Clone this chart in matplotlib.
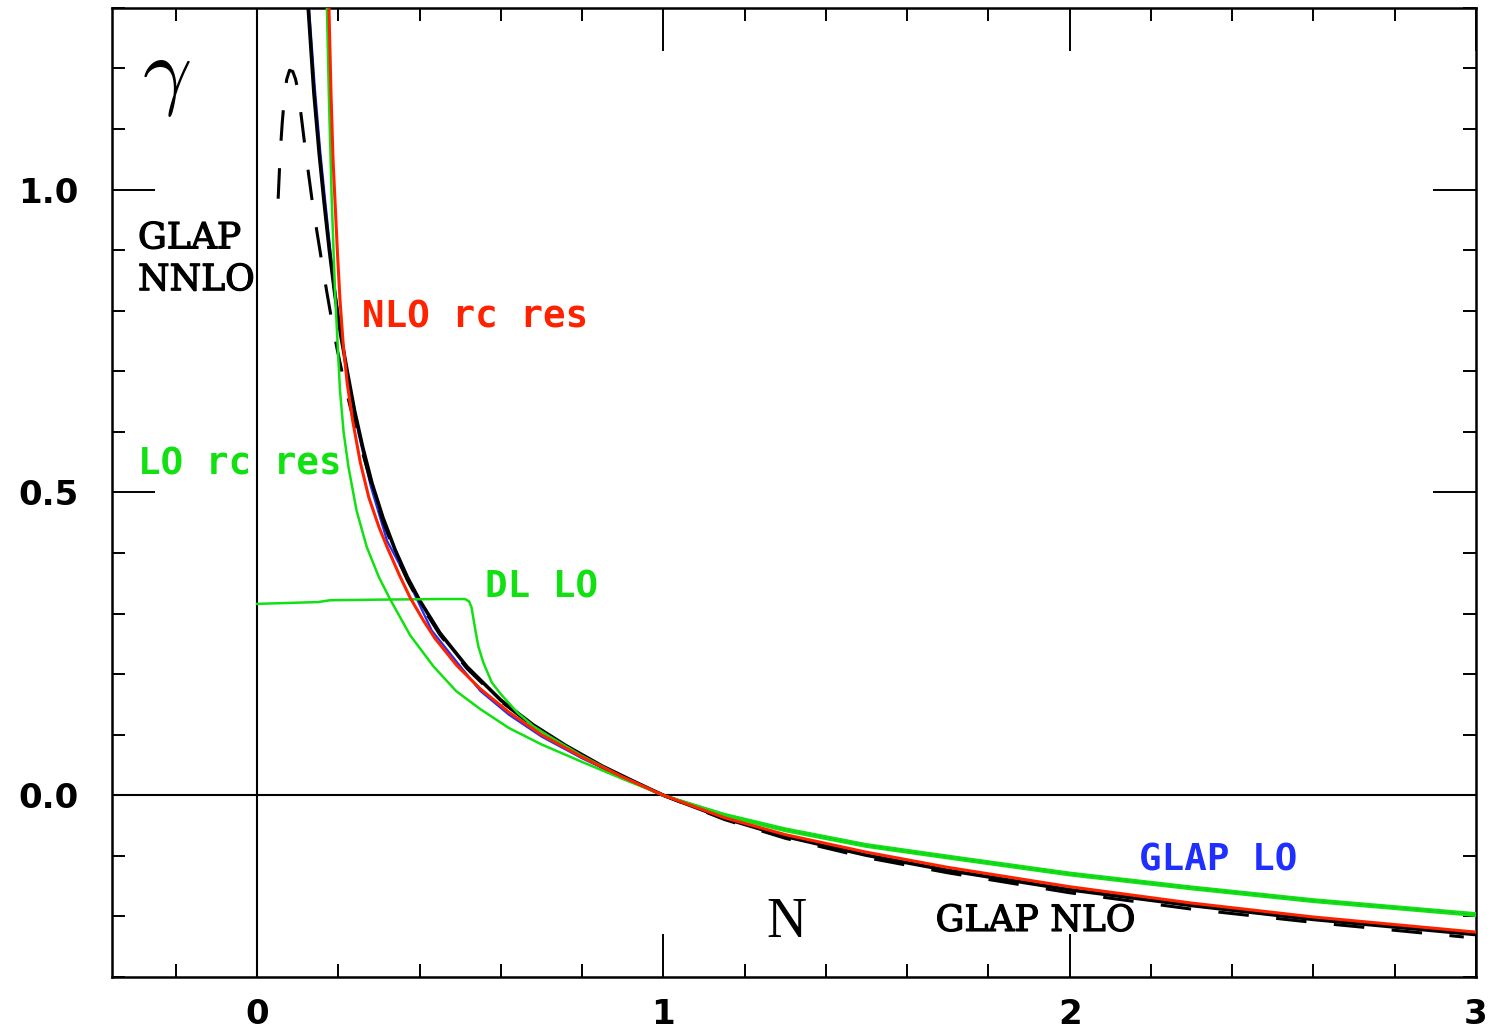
import matplotlib
matplotlib.use("Agg")
import matplotlib.pyplot as plt
import matplotlib.patheffects as pe
from matplotlib.ticker import FixedLocator, MultipleLocator

# GLAP LO (blue)
n_glap_lo = [0.128, 0.142, 0.156, 0.168, 0.182, 0.200, 0.225, 0.250, 0.280, 0.320, 0.370,
             0.430, 0.500, 0.550, 0.620, 0.700, 0.800, 0.900, 1.000, 1.150, 1.300, 1.500,
             1.700, 2.000, 2.300, 2.600, 3.000]
g_glap_lo = [1.30, 1.17, 1.06, 0.98, 0.89, 0.79, 0.685, 0.597, 0.510, 0.420, 0.357,
             0.272, 0.213, 0.172, 0.133, 0.097, 0.061, 0.029, 0.000, -0.032, -0.056, -0.082,
             -0.101, -0.129, -0.152, -0.173, -0.196]

# GLAP NLO (black solid)
n_glap_nlo = [0.126, 0.140, 0.153, 0.165, 0.178, 0.191, 0.206, 0.222, 0.240, 0.260, 0.283,
              0.310, 0.340, 0.370, 0.400, 0.450, 0.517, 0.600, 0.680, 0.760, 0.850, 0.930,
              1.000, 1.150, 1.300, 1.500, 1.700, 2.000, 2.300, 2.600, 3.000]
g_glap_nlo = [1.30, 1.16, 1.06, 0.98, 0.90, 0.83, 0.76, 0.70, 0.635, 0.575, 0.515,
              0.458, 0.405, 0.360, 0.322, 0.268, 0.212, 0.157, 0.116, 0.082, 0.048, 0.022,
              0.000, -0.038, -0.068, -0.099, -0.124, -0.156, -0.182, -0.205, -0.230]

# GLAP NNLO (black dashed)
n_glap_nnlo = [0.052, 0.055, 0.058, 0.062, 0.067, 0.073, 0.080, 0.088, 0.095, 0.102, 0.110,
               0.120, 0.135, 0.148, 0.160, 0.172, 0.185, 0.197, 0.212, 0.228, 0.245, 0.260,
               0.283, 0.310, 0.340, 0.370, 0.400, 0.450, 0.517, 0.600, 0.680, 0.760, 0.850,
               0.930, 1.000, 1.150, 1.300, 1.500, 1.700, 2.000, 2.300, 2.600, 2.970]
g_glap_nnlo = [0.985, 1.030, 1.070, 1.110, 1.150, 1.182, 1.197, 1.195, 1.182, 1.158, 1.115,
               1.060, 0.985, 0.928, 0.878, 0.830, 0.780, 0.737, 0.690, 0.645, 0.600, 0.565,
               0.510, 0.452, 0.400, 0.355, 0.318, 0.265, 0.209, 0.155, 0.114, 0.080, 0.046,
               0.021, 0.000, -0.040, -0.071, -0.103, -0.128, -0.161, -0.188, -0.210, -0.234]

# NLO rc res (red)
n_nlo_rc = [0.177, 0.182, 0.187, 0.192, 0.198, 0.204, 0.212, 0.222, 0.235, 0.254, 0.275,
            0.300, 0.320, 0.350, 0.377, 0.410, 0.438, 0.492, 0.549, 0.620, 0.700, 0.800,
            0.900, 1.000, 1.150, 1.300, 1.500, 1.700, 2.000, 2.300, 2.600, 3.000]
g_nlo_rc = [1.30, 1.16, 1.05, 0.98, 0.895, 0.82, 0.745, 0.68, 0.62, 0.550, 0.492,
            0.443, 0.410, 0.364, 0.326, 0.288, 0.259, 0.214, 0.176, 0.137, 0.100, 0.063,
            0.030, 0.000, -0.037, -0.065, -0.094, -0.119, -0.151, -0.178, -0.201, -0.226]

# LO rc res (green)
n_lo_rc = [0.172, 0.177, 0.184, 0.192, 0.198, 0.204, 0.213, 0.225, 0.245, 0.270, 0.300,
           0.328, 0.377, 0.434, 0.490, 0.550, 0.620, 0.700, 0.800, 0.900, 1.000, 1.150,
           1.300, 1.500, 1.700, 2.000, 2.300, 2.600, 3.000]
g_lo_rc = [1.30, 1.15, 0.98, 0.83, 0.75, 0.67, 0.60, 0.542, 0.470, 0.410, 0.360,
           0.323, 0.264, 0.213, 0.172, 0.142, 0.111, 0.084, 0.055, 0.027, 0.000, -0.034,
           -0.059, -0.085, -0.104, -0.132, -0.155, -0.176, -0.199]

# DL LO (green)
n_dl_lo = [0.000, 0.100, 0.150, 0.180, 0.300, 0.450, 0.512, 0.522, 0.528, 0.533, 0.538,
           0.545, 0.557, 0.578, 0.600, 0.640, 0.680, 0.720, 0.800, 0.900, 1.000, 1.150,
           1.300, 1.500, 1.700, 2.000, 2.300, 2.600, 3.000]
g_dl_lo = [0.316, 0.318, 0.319, 0.322, 0.323, 0.324, 0.324, 0.320, 0.310, 0.290, 0.270,
           0.245, 0.219, 0.186, 0.167, 0.137, 0.114, 0.097, 0.065, 0.030, 0.000, -0.031,
           -0.055, -0.081, -0.100, -0.128, -0.151, -0.172, -0.195]

x_major = [0, 1, 2, 3]
x_labels = ["0", "1", "2", "3"]
y_major = [0.0, 0.5, 1.0]
y_labels = ["0.0", "0.5", "1.0"]

RED = "#ff2200"
GREEN = "#11e011"
BLUE = "#1f2fff"

fig = plt.figure(figsize=(14.93, 10.30), dpi=100)
ax = fig.add_axes([0.0750, 0.0515, 0.9136, 0.9408])
ax.set_xlim(-0.357, 3.0)
ax.set_ylim(-0.3, 1.3)

ax.axhline(0, color="black", lw=1.5, zorder=1)
ax.axvline(0, color="black", lw=1.5, zorder=1)

ax.plot(n_glap_lo, g_glap_lo, color=BLUE, lw=1.6, zorder=2)
ax.plot(n_glap_nlo, g_glap_nlo, color="black", lw=2.6, zorder=3)
ax.plot(n_glap_nnlo, g_glap_nnlo, color="black", lw=2.2, ls=(0, (10, 9)), zorder=3)
ax.plot(n_dl_lo, g_dl_lo, color=GREEN, lw=1.8, zorder=4)
ax.plot(n_lo_rc, g_lo_rc, color=GREEN, lw=1.8, zorder=4)
ax.plot(n_nlo_rc, g_nlo_rc, color=RED, lw=2.2, zorder=5)

# labels on the curves
mono = dict(family="DejaVu Sans Mono", weight="bold", fontsize=27)
thick = [pe.withStroke(linewidth=0.9, foreground="black")]
serif = dict(family="DejaVu Serif", fontsize=26, path_effects=thick)
ax.text(-0.293, 0.903, "GLAP", color="black", va="baseline", ha="left", **serif)
ax.text(-0.293, 0.834, "NNLO", color="black", va="baseline", ha="left", **serif)
ax.text(0.258, 0.773, "NLO rc res", color=RED, va="baseline", ha="left", **mono)
ax.text(-0.293, 0.529, "LO rc res", color=GREEN, va="baseline", ha="left", **mono)
ax.text(0.562, 0.326, "DL LO", color=GREEN, va="baseline", ha="left", **mono)
ax.text(2.17, -0.125, "GLAP LO", color=BLUE, va="baseline", ha="left", **mono)
ax.text(1.67, -0.224, "GLAP NLO", color="black", va="baseline", ha="left", **serif)
ax.text(1.254, -0.234, "N", color="black", va="baseline", ha="left",
        family="Liberation Serif", fontsize=40)
ax.text(-0.222, 1.185, r"$\gamma$", color="black", va="center", ha="center",
        fontsize=62, math_fontfamily="cm")

# ticks inward on all four sides
ax.xaxis.set_major_locator(FixedLocator(x_major))
ax.xaxis.set_minor_locator(MultipleLocator(0.2))
ax.yaxis.set_major_locator(FixedLocator(y_major))
ax.yaxis.set_minor_locator(MultipleLocator(0.1))
ax.set_xticklabels(x_labels)
ax.set_yticklabels(y_labels)
ax.tick_params(which="both", direction="in", top=True, right=True, width=1.4, color="black")
ax.tick_params(which="major", length=31)
ax.tick_params(which="minor", length=9.5)
ax.tick_params(axis="x", which="major", pad=15)
ax.tick_params(axis="y", which="major", pad=24)
for lab in ax.get_xticklabels() + ax.get_yticklabels():
    lab.set_fontfamily("DejaVu Sans")
    lab.set_fontweight("bold")
    lab.set_fontsize(24.5)

for sp in ax.spines.values():
    sp.set_linewidth(1.8)

fig.savefig("out.png", dpi=100)
